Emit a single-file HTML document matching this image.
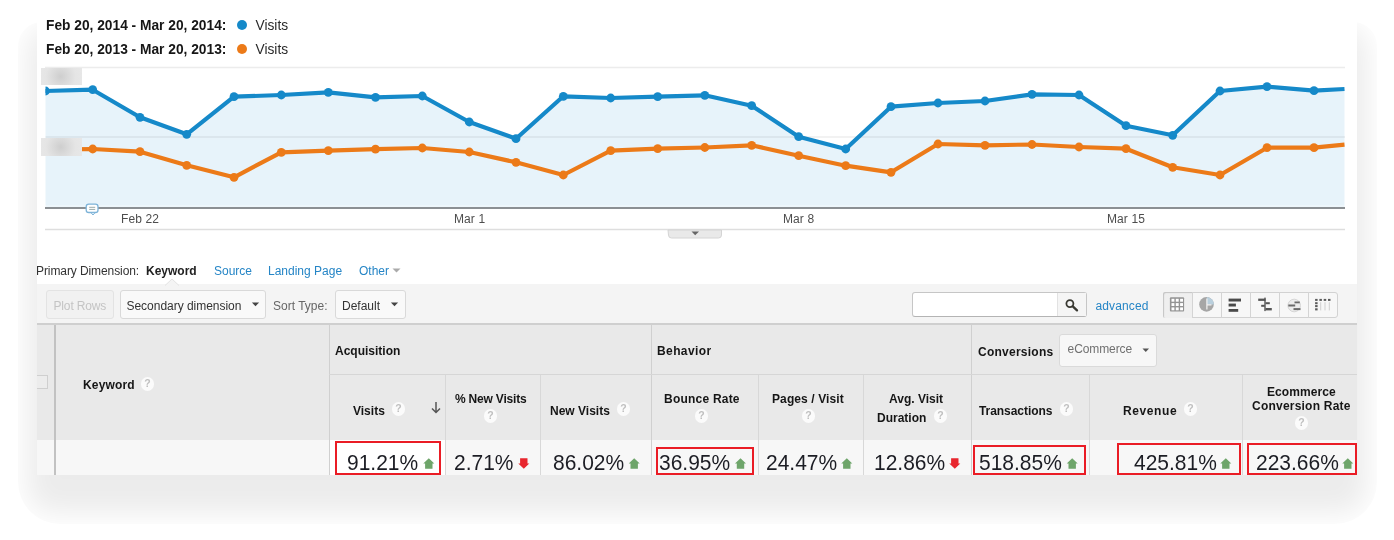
<!DOCTYPE html>
<html lang="en">
<head>
<meta charset="utf-8">
<title>Keyword report</title>
<style>
html,body{margin:0;padding:0;background:#fff;}
body{width:1394px;height:540px;position:relative;overflow:hidden;font-family:"Liberation Sans",Arial,sans-serif;color:#222;}
.card{position:absolute;left:37px;top:0;width:1320px;height:475px;background:#fff;overflow:hidden;z-index:2;}
.shclip{position:absolute;left:17.5px;top:22px;width:1359px;height:501.5px;overflow:hidden;border-radius:24px 24px 42px 42px;z-index:1;}
.shadow{position:absolute;left:19.5px;top:-14px;width:1320px;height:467px;border-radius:14px;z-index:1;
  box-shadow:0 28px 28px 10px rgba(0,0,0,0.08);}
.in{position:absolute;left:-37px;top:0;width:1394px;height:540px;}
.abs{position:absolute;white-space:nowrap;}
.t{position:absolute;white-space:nowrap;line-height:1;}
.b{font-weight:bold;}
.lg{font-size:13.75px;font-weight:bold;color:#161616;}
.lgv{font-size:13.75px;color:#2a2a2a;}
.dot{position:absolute;width:10px;height:10px;border-radius:50%;}
.ui{font-size:12px;color:#333;}
.lnk{color:#2585c6;}
.hd{font-size:12px;font-weight:bold;color:#161616;}
.big{font-size:21px;color:#1c1d24;transform:scaleY(1.05);transform-origin:50% 85%;}
.btn{position:absolute;box-sizing:border-box;border:1px solid #d9d9d9;border-radius:3px;background:#f9f9f9;}
.q{position:absolute;width:13.6px;height:13.6px;margin:-0.6px 0 0 -0.3px;border-radius:50%;background:#fbfbfb;color:#c0c0c0;font-size:10.5px;font-weight:bold;line-height:13.6px;text-align:center;}
.vb{position:absolute;width:1px;background:#d0d0d0;}
.hb{position:absolute;height:1px;background:#d6d6d6;}
.rb{position:absolute;box-sizing:border-box;border:2.2px solid #ea1c25;}
.ax{font-size:12px;color:#4d4d4d;letter-spacing:0.1px;}
.blur{position:absolute;background:radial-gradient(circle at 48% 50%,#cecece 0,#d9d9d9 7px,#e5e5e5 15px,#e7e7e7 22px);}
</style>
</head>
<body>
<div class="shclip"><div class="shadow"></div></div>
<div class="card"><div class="in">

<!-- legend -->
<div class="t lg" style="left:46px;top:19px;">Feb 20, 2014 - Mar 20, 2014:</div>
<div class="dot" style="left:237px;top:20px;background:#1589c9;"></div>
<div class="t lgv" style="left:255.5px;top:19px;">Visits</div>
<div class="t lg" style="left:46px;top:43px;">Feb 20, 2013 - Mar 20, 2013:</div>
<div class="dot" style="left:237px;top:44px;background:#ec7a18;"></div>
<div class="t lgv" style="left:255.5px;top:43px;">Visits</div>

<!-- chart -->
<svg class="abs" style="left:0;top:0;" width="1394" height="540" viewBox="0 0 1394 540">
  <line x1="45" y1="67.5" x2="1345" y2="67.5" stroke="#ececec" stroke-width="1.5"/>
  <svg x="45.5" y="60" width="1299.5" height="150" viewBox="45.5 60 1299.5 150" overflow="hidden">
  <polygon fill="#e7f3fa" points="45,91 92.7,89.7 140,117.3 186.7,134.3 234,96.7 281.3,95 328.3,92.3 375.5,97.3 422.3,96 469.3,122 516,138.7 563.3,96.3 610.7,98 657.7,96.7 704.8,95.3 751.7,105.7 798.7,136.7 845.7,149 891,106.7 938,103 985,101 1032,94.3 1079,95 1126,125.7 1172.7,135.3 1220,91 1267,86.7 1314,90.7 1344.5,89 1344.5,207 45,207"/>
  <line x1="45" y1="137" x2="1345" y2="137" stroke="rgba(0,0,0,0.05)" stroke-width="2"/>
  <polyline fill="none" stroke="#ec7a18" stroke-width="4.2" stroke-linejoin="round" points="45,149.5 92.7,149 140,151.7 186.7,165.3 234,177.3 281.3,152.3 328.3,150.7 375.5,149.2 422.3,148 469.3,152 516,162.3 563.3,175 610.7,150.7 657.7,148.7 704.8,147.5 751.7,145.3 798.7,155.7 845.7,165.7 891,172.3 938,144 985,145.3 1032,144.5 1079,147 1126,148.7 1172.7,167.3 1220,175 1267,147.7 1314,147.7 1344.5,144.7"/>
  <g fill="#ec7a18">
    <circle cx="92.7" cy="149" r="4.4"/><circle cx="140" cy="151.7" r="4.4"/><circle cx="186.7" cy="165.3" r="4.4"/><circle cx="234" cy="177.3" r="4.4"/><circle cx="281.3" cy="152.3" r="4.4"/><circle cx="328.3" cy="150.7" r="4.4"/><circle cx="375.5" cy="149.2" r="4.4"/><circle cx="422.3" cy="148" r="4.4"/><circle cx="469.3" cy="152" r="4.4"/><circle cx="516" cy="162.3" r="4.4"/><circle cx="563.3" cy="175" r="4.4"/><circle cx="610.7" cy="150.7" r="4.4"/><circle cx="657.7" cy="148.7" r="4.4"/><circle cx="704.8" cy="147.5" r="4.4"/><circle cx="751.7" cy="145.3" r="4.4"/><circle cx="798.7" cy="155.7" r="4.4"/><circle cx="845.7" cy="165.7" r="4.4"/><circle cx="891" cy="172.3" r="4.4"/><circle cx="938" cy="144" r="4.4"/><circle cx="985" cy="145.3" r="4.4"/><circle cx="1032" cy="144.5" r="4.4"/><circle cx="1079" cy="147" r="4.4"/><circle cx="1126" cy="148.7" r="4.4"/><circle cx="1172.7" cy="167.3" r="4.4"/><circle cx="1220" cy="175" r="4.4"/><circle cx="1267" cy="147.7" r="4.4"/><circle cx="1314" cy="147.7" r="4.4"/>
  </g>
  <polyline fill="none" stroke="#1589c9" stroke-width="4.2" stroke-linejoin="round" points="45,91 92.7,89.7 140,117.3 186.7,134.3 234,96.7 281.3,95 328.3,92.3 375.5,97.3 422.3,96 469.3,122 516,138.7 563.3,96.3 610.7,98 657.7,96.7 704.8,95.3 751.7,105.7 798.7,136.7 845.7,149 891,106.7 938,103 985,101 1032,94.3 1079,95 1126,125.7 1172.7,135.3 1220,91 1267,86.7 1314,90.7 1344.5,89"/>
  <g fill="#1589c9">
    <circle cx="45.5" cy="91" r="4.4"/><circle cx="92.7" cy="89.7" r="4.4"/><circle cx="140" cy="117.3" r="4.4"/><circle cx="186.7" cy="134.3" r="4.4"/><circle cx="234" cy="96.7" r="4.4"/><circle cx="281.3" cy="95" r="4.4"/><circle cx="328.3" cy="92.3" r="4.4"/><circle cx="375.5" cy="97.3" r="4.4"/><circle cx="422.3" cy="96" r="4.4"/><circle cx="469.3" cy="122" r="4.4"/><circle cx="516" cy="138.7" r="4.4"/><circle cx="563.3" cy="96.3" r="4.4"/><circle cx="610.7" cy="98" r="4.4"/><circle cx="657.7" cy="96.7" r="4.4"/><circle cx="704.8" cy="95.3" r="4.4"/><circle cx="751.7" cy="105.7" r="4.4"/><circle cx="798.7" cy="136.7" r="4.4"/><circle cx="845.7" cy="149" r="4.4"/><circle cx="891" cy="106.7" r="4.4"/><circle cx="938" cy="103" r="4.4"/><circle cx="985" cy="101" r="4.4"/><circle cx="1032" cy="94.3" r="4.4"/><circle cx="1079" cy="95" r="4.4"/><circle cx="1126" cy="125.7" r="4.4"/><circle cx="1172.7" cy="135.3" r="4.4"/><circle cx="1220" cy="91" r="4.4"/><circle cx="1267" cy="86.7" r="4.4"/><circle cx="1314" cy="90.7" r="4.4"/>
  </g>
  </svg>
  <line x1="45" y1="206" x2="1345" y2="206" stroke="rgba(255,255,255,0.55)" stroke-width="1"/>
  <line x1="45" y1="208" x2="1345" y2="208" stroke="#8b8f93" stroke-width="2"/>
  <line x1="45" y1="229.5" x2="1345" y2="229.5" stroke="#dedede" stroke-width="1.5"/>
  <!-- annotation bubble -->
  <rect x="86.2" y="204.2" width="11.8" height="8.3" rx="2.6" fill="#fff" stroke="#7db3d8" stroke-width="1.3"/>
  <path d="M91 212.6 L93 215 L95 212.6 Z" fill="#fff" stroke="#7db3d8" stroke-width="1"/>
  <line x1="89.2" y1="207.3" x2="95.2" y2="207.3" stroke="#9aa" stroke-width="1"/>
  <line x1="89.2" y1="209.4" x2="95.2" y2="209.4" stroke="#9aa" stroke-width="1"/>
  <!-- drawer tab -->
  <path d="M668 230 H721.5 V235 Q721.5 238 718.5 238 H671.5 Q668.5 238 668.5 235 Z" fill="#e9e9e9" stroke="#d4d4d4" stroke-width="1"/>
  <path d="M691.5 231.5 H699 L695.2 235.2 Z" fill="#666"/>
</svg>
<div class="blur" style="left:40.7px;top:67.8px;width:41.5px;height:17.5px;"></div>
<div class="blur" style="left:40.7px;top:138.3px;width:41.8px;height:17.5px;"></div>

<div class="t ax" style="left:121px;top:213px;">Feb 22</div>
<div class="t ax" style="left:454px;top:213px;">Mar 1</div>
<div class="t ax" style="left:783px;top:213px;">Mar 8</div>
<div class="t ax" style="left:1107px;top:213px;">Mar 15</div>

<!-- primary dimension -->
<div class="t ui" style="left:36px;top:265px;letter-spacing:-0.09px;color:#333;">Primary Dimension:</div>
<div class="t ui b" style="left:146px;top:265px;color:#222;">Keyword</div>
<div class="t ui lnk" style="left:214px;top:265px;">Source</div>
<div class="t ui lnk" style="left:268px;top:265px;">Landing Page</div>
<div class="t ui lnk" style="left:359px;top:265px;">Other</div>
<svg class="abs" style="left:392px;top:268px;" width="10" height="6"><path d="M0.5 0.5 H8.5 L4.5 4.5 Z" fill="#aaa"/></svg>

<!-- toolbar -->
<div class="abs" style="left:37px;top:284px;width:1320px;height:40px;background:#f4f4f4;"></div>
<svg class="abs" style="left:164px;top:278px;" width="16" height="8"><path d="M1 7.5 L8 1 L15 7.5" fill="#f4f4f4" stroke="#e2e2e2" stroke-width="1"/></svg>
<div class="btn" style="left:46px;top:290px;width:68px;height:29px;background:#f1f1f1;border-color:#e3e3e3;"></div>
<div class="t ui" style="left:53.5px;top:300px;color:#c4c4c4;letter-spacing:-0.15px;">Plot Rows</div>
<div class="btn" style="left:119.6px;top:290px;width:146.6px;height:29px;"></div>
<div class="t ui" style="left:126.5px;top:300px;letter-spacing:-0.03px;">Secondary dimension</div>
<svg class="abs" style="left:250.7px;top:301.8px;" width="10" height="6"><path d="M0.9 0.6 H8.1 L4.5 4.3 Z" fill="#444"/></svg>
<div class="t ui" style="left:273px;top:300px;color:#666;">Sort Type:</div>
<div class="btn" style="left:335px;top:290px;width:71px;height:29px;"></div>
<div class="t ui" style="left:342px;top:300px;">Default</div>
<svg class="abs" style="left:390.3px;top:301.8px;" width="10" height="6"><path d="M0.9 0.6 H8.1 L4.5 4.3 Z" fill="#444"/></svg>

<!-- search -->
<div class="abs" style="left:912px;top:292px;width:175px;height:25px;box-sizing:border-box;border:1px solid #c6c6c6;border-bottom-color:#b4b4b4;border-radius:3px;background:#fff;"></div>
<div class="abs" style="left:1057px;top:293px;width:29px;height:23px;background:#f5f5f5;border-left:1px solid #e2e2e2;box-sizing:border-box;"></div>
<svg class="abs" style="left:1063px;top:296px;" width="18" height="18" viewBox="0 0 18 18"><circle cx="6.9" cy="7.6" r="3.5" fill="none" stroke="#3a3a33" stroke-width="1.8"/><line x1="9.8" y1="10.4" x2="14" y2="14.4" stroke="#3a3a33" stroke-width="2.3" stroke-linecap="round"/></svg>
<div class="t ui lnk" style="left:1095.5px;top:300px;letter-spacing:0.12px;">advanced</div>

<!-- view icons -->
<div class="btn" style="left:1162.5px;top:291.5px;width:175.8px;height:26.5px;background:#f7f7f7;border-color:#d2d2d2;"></div>
<div class="abs" style="left:1163px;top:292px;width:29px;height:25.5px;background:#efefef;border-radius:2px 0 0 2px;box-shadow:inset 1px 1px 1px #c4c4c4;"></div>
<div class="vb" style="left:1192px;top:292px;height:25.5px;background:#d4d4d4;"></div>
<div class="vb" style="left:1221px;top:292px;height:25.5px;background:#d4d4d4;"></div>
<div class="vb" style="left:1249.5px;top:292px;height:25.5px;background:#d4d4d4;"></div>
<div class="vb" style="left:1279px;top:292px;height:25.5px;background:#d4d4d4;"></div>
<div class="vb" style="left:1308px;top:292px;height:25.5px;background:#d4d4d4;"></div>
<svg class="abs" style="left:1163px;top:291px;" width="176" height="27" viewBox="0 0 176 27">
  <!-- grid -->
  <rect x="6.9" y="6.2" width="14.2" height="14.2" rx="1" fill="#959595"/>
  <g fill="#fff">
    <rect x="8.5" y="7.8" width="2.9" height="2.9"/><rect x="12.8" y="7.8" width="2.9" height="2.9"/><rect x="17.1" y="7.8" width="2.9" height="2.9"/>
    <rect x="8.5" y="12.1" width="2.9" height="2.9"/><rect x="12.8" y="12.1" width="2.9" height="2.9"/><rect x="17.1" y="12.1" width="2.9" height="2.9"/>
    <rect x="8.5" y="16.4" width="2.9" height="2.9"/><rect x="12.8" y="16.4" width="2.9" height="2.9"/><rect x="17.1" y="16.4" width="2.9" height="2.9"/>
  </g>
  <!-- pie -->
  <circle cx="43.5" cy="13.4" r="7.3" fill="#a6a6a6"/>
  <path d="M43.9 13.4 V6.1 A7.3 7.3 0 0 1 50.8 13.4 Z" fill="#b9cfdd"/>
  <path d="M43.9 7.5 V18.5 M43.9 13.9 H48.5" stroke="#f2f2f2" stroke-width="1.2" fill="none"/>
  <!-- bars -->
  <rect x="65.6" y="7.6" width="12.4" height="2.9" fill="#4a4a4a"/>
  <rect x="65.6" y="12.6" width="7.3" height="2.9" fill="#4a4a4a"/>
  <rect x="65.6" y="18" width="9.6" height="2.8" fill="#4a4a4a"/>
  <!-- comparison -->
  <g fill="#555">
  <rect x="95.2" y="7.6" width="7.3" height="2.3"/>
  <rect x="101.3" y="6.6" width="1.4" height="13.5"/>
  <rect x="102.5" y="11.2" width="4.3" height="2"/>
  <rect x="98.2" y="13.8" width="3.6" height="2"/>
  <rect x="102.5" y="17" width="6.3" height="2.4"/>
  </g>
  <!-- term cloud -->
  <circle cx="131.2" cy="14.5" r="6.3" fill="#ececec" stroke="#d6d6d6" stroke-width="1"/>
  <rect x="131.5" y="10.5" width="5.3" height="1.8" fill="#6a6a6a"/>
  <rect x="125.3" y="13.5" width="6.9" height="2" fill="#6a6a6a"/>
  <rect x="130.5" y="17.1" width="7" height="2" fill="#6a6a6a"/>
  <!-- pivot -->
  <g fill="#5a5a5a">
  <rect x="152.1" y="7.9" width="2.5" height="2"/><rect x="156.4" y="7.9" width="2.5" height="2"/><rect x="160.7" y="7.9" width="2.5" height="2"/><rect x="165" y="7.9" width="2.5" height="2"/>
  <rect x="152.1" y="11.2" width="2.5" height="2"/><rect x="152.1" y="14.1" width="2.5" height="2"/><rect x="152.1" y="17.3" width="2.5" height="2.1"/>
  </g>
  <g fill="#cfcfcf"><rect x="157.2" y="11.2" width="1" height="8.2"/><rect x="161.5" y="11.2" width="1" height="8.2"/><rect x="165.8" y="11.2" width="1" height="8.2"/></g>
</svg>

<!-- table header -->
<div class="abs" style="left:37px;top:323px;width:1320px;height:117px;background:#e9e9e9;border-top:2px solid #cfcfcf;box-sizing:border-box;"></div>
<div class="abs" style="left:37px;top:440px;width:1320px;height:35px;background:#f7f7f7;"></div>
<div class="abs" style="left:330px;top:440px;width:115px;height:35px;background:#fff;"></div>
<div class="vb" style="left:54.4px;width:1.7px;top:325px;height:150px;background:#c2c2c2;"></div>
<div class="vb" style="left:329px;top:325px;height:150px;"></div>
<div class="vb" style="left:651px;top:325px;height:150px;"></div>
<div class="vb" style="left:971px;top:325px;height:150px;"></div>
<div class="hb" style="left:329px;top:374px;width:1028px;"></div>
<div class="vb" style="left:445px;top:375px;height:100px;background:#d8d8d8;"></div>
<div class="vb" style="left:540px;top:375px;height:100px;background:#d8d8d8;"></div>
<div class="vb" style="left:758px;top:375px;height:100px;background:#d8d8d8;"></div>
<div class="vb" style="left:863px;top:375px;height:100px;background:#d8d8d8;"></div>
<div class="vb" style="left:1089px;top:375px;height:100px;background:#d8d8d8;"></div>
<div class="vb" style="left:1242px;top:375px;height:100px;background:#d8d8d8;"></div>

<div class="abs" style="left:33px;top:375.3px;width:14.6px;height:13.6px;box-sizing:border-box;border:1px solid #cfcfcf;background:#ececec;"></div>

<div class="t hd" style="left:83px;top:378.6px;letter-spacing:0.15px;">Keyword</div><div class="q" style="left:141px;top:378px;">?</div>
<div class="t hd" style="left:335px;top:344.6px;">Acquisition</div>
<div class="t hd" style="left:657px;top:344.6px;letter-spacing:0.4px;">Behavior</div>
<div class="t hd" style="left:978px;top:345.6px;letter-spacing:0.25px;">Conversions</div>
<div class="btn" style="left:1059.3px;top:333.6px;width:98px;height:33px;background:#f7f7f7;border-color:#dadada;"></div>
<div class="t ui" style="left:1067.6px;top:343px;color:#707070;letter-spacing:-0.1px;">eCommerce</div>
<svg class="abs" style="left:1142px;top:347.8px;" width="9" height="6"><path d="M0.5 0.5 H7 L3.75 3.9 Z" fill="#555"/></svg>

<div class="t hd" style="left:353px;top:404.6px;">Visits</div><div class="q" style="left:392px;top:403px;">?</div>
<svg class="abs" style="left:430px;top:401px;" width="12" height="14" viewBox="0 0 12 14"><path d="M6 1 V11 M2 7.5 L6 11.5 L10 7.5" fill="none" stroke="#555" stroke-width="1.5"/></svg>
<div class="t hd" style="left:455px;top:392.6px;letter-spacing:-0.2px;">% New Visits</div><div class="q" style="left:484px;top:410px;">?</div>
<div class="t hd" style="left:550px;top:404.6px;">New Visits</div><div class="q" style="left:617px;top:403px;">?</div>
<div class="t hd" style="left:664px;top:392.6px;letter-spacing:0.22px;">Bounce Rate</div><div class="q" style="left:695px;top:410px;">?</div>
<div class="t hd" style="left:772px;top:392.6px;letter-spacing:0.1px;">Pages / Visit</div><div class="q" style="left:802px;top:410px;">?</div>
<div class="t hd" style="left:889px;top:392.6px;">Avg. Visit</div>
<div class="t hd" style="left:877px;top:411.6px;">Duration</div><div class="q" style="left:934px;top:410px;">?</div>
<div class="t hd" style="left:979px;top:404.6px;letter-spacing:-0.06px;">Transactions</div><div class="q" style="left:1060px;top:403px;">?</div>
<div class="t hd" style="left:1123px;top:404.6px;letter-spacing:0.6px;">Revenue</div><div class="q" style="left:1184px;top:403px;">?</div>
<div class="t hd" style="left:1267px;top:385.6px;letter-spacing:0.08px;">Ecommerce</div>
<div class="t hd" style="left:1252px;top:399.6px;letter-spacing:0.22px;">Conversion Rate</div><div class="q" style="left:1295px;top:417px;">?</div>

<!-- data row -->
<div class="rb" style="left:334.6px;top:440.8px;width:106px;height:34px;"></div>
<div class="rb" style="left:656px;top:447px;width:98px;height:27.8px;"></div>
<div class="rb" style="left:973px;top:445px;width:113px;height:29.8px;"></div>
<div class="rb" style="left:1117px;top:442.6px;width:124px;height:32.2px;"></div>
<div class="rb" style="left:1246.5px;top:442.6px;width:110.5px;height:32.2px;"></div>

<div class="t big" style="left:347px;top:452px;">91.21%</div>
<div class="t big" style="left:454px;top:452px;">2.71%</div>
<div class="t big" style="left:553px;top:452px;">86.02%</div>
<div class="t big" style="left:659px;top:452px;">36.95%</div>
<div class="t big" style="left:766px;top:452px;">24.47%</div>
<div class="t big" style="left:874px;top:452px;">12.86%</div>
<div class="t big" style="left:979px;top:452px;">518.85%</div>
<div class="t big" style="left:1134px;top:452px;">425.81%</div>
<div class="t big" style="left:1256px;top:452px;">223.66%</div>

<svg class="abs" style="left:0;top:0;pointer-events:none;" width="1394" height="540" viewBox="0 0 1394 540">
  <g fill="#6ea56a">
    <path transform="translate(423.6 458.2)" d="M5.2 0 L10.7 5.4 H8.9 V10.6 H1.5 V5.4 H-0.3 Z"/>
    <path transform="translate(629 458.2)" d="M5.2 0 L10.7 5.4 H8.9 V10.6 H1.5 V5.4 H-0.3 Z"/>
    <path transform="translate(735.3 458.2)" d="M5.2 0 L10.7 5.4 H8.9 V10.6 H1.5 V5.4 H-0.3 Z"/>
    <path transform="translate(841.6 458.2)" d="M5.2 0 L10.7 5.4 H8.9 V10.6 H1.5 V5.4 H-0.3 Z"/>
    <path transform="translate(1067 458.2)" d="M5.2 0 L10.7 5.4 H8.9 V10.6 H1.5 V5.4 H-0.3 Z"/>
    <path transform="translate(1220.6 458.2)" d="M5.2 0 L10.7 5.4 H8.9 V10.6 H1.5 V5.4 H-0.3 Z"/>
    <path transform="translate(1342.6 458.2)" d="M5.2 0 L10.7 5.4 H8.9 V10.6 H1.5 V5.4 H-0.3 Z"/>
  </g>
  <g fill="#e8262e">
    <path transform="translate(518.6 458.2)" d="M1.5 0 H8.9 V5.2 H10.7 L5.2 10.6 L-0.3 5.2 H1.5 Z"/>
    <path transform="translate(949.6 458.2)" d="M1.5 0 H8.9 V5.2 H10.7 L5.2 10.6 L-0.3 5.2 H1.5 Z"/>
  </g>
</svg>

</div></div>
</body>
</html>
